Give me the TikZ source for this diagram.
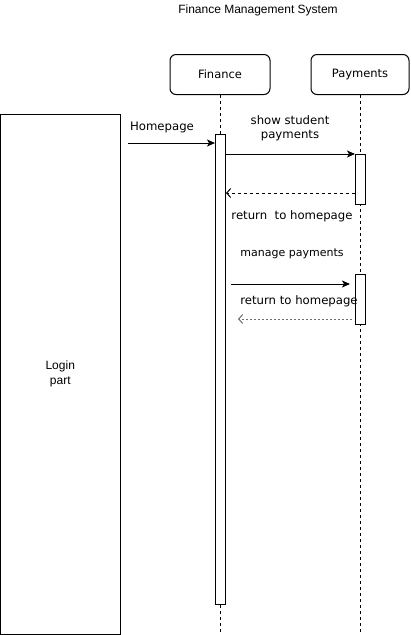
\documentclass[tikz,border=0pt]{standalone}
\usepackage{fontspec}
\setmainfont{Liberation Sans}
\newfontfamily\dejavu{DejaVu Sans}
\usetikzlibrary{arrows.meta,positioning}
\definecolor{replygray}{RGB}{110,110,110}
\tikzset{>=Stealth}

\begin{document}
\begin{tikzpicture}[x=1pt,y=-1pt,line width=1pt,
  lifehead/.style={draw, rounded corners=6pt, minimum width=100pt, minimum height=40pt, font=\dejavu\fontsize{11.5}{13}\selectfont},
  actbar/.style={draw, fill=white, minimum width=10pt, inner sep=0pt},
  lbl/.style={font=\dejavu\fontsize{11.7}{14}\selectfont, align=center, inner sep=0pt},
  msg/.style={-{Stealth[length=8pt,width=7pt,inset=2pt]}},
  reply/.style={dash pattern=on 3pt off 3pt, -{Straight Barb[length=4pt,width=9pt]}},
  lifeline/.style={dash pattern=on 3pt off 3pt}]
  \useasboundingbox (0,0) rectangle (411,635);
  \node[font=\fontsize{12}{14}\selectfont] (title) at (258,10) {Finance Management System};
  % lifelines
  \node[lifehead] (finance) at (220,74.5) {Finance};
  \node[lifehead, minimum width=98pt] (payments) at (360,74.5) {Payments};
  \coordinate (finEnd) at (220,632);
  \coordinate (payEnd) at (360,632);
  \draw[lifeline] (finance) -- (finEnd);
  \draw[lifeline] (payments) -- (payEnd);
  \node[actbar, minimum height=470pt] (finAct) at (220.5,369) {};
  \node[actbar, minimum height=50pt] (payAct1) at (360.5,179) {};
  \node[actbar, minimum height=50pt] (payAct2) at (360.5,299) {};
  \node[draw, minimum width=119.5pt, minimum height=520pt, font=\fontsize{12}{15}\selectfont, align=center] (login) at (60.25,374) {Login\\part};
  % messages
  \coordinate (hpStart) at (128,143);
  \draw[msg] (hpStart) -- (hpStart -| finAct.west);
  \node[lbl] (hpLbl) at (162,127) {Homepage};
  \coordinate (showY) at (0,154);
  \draw[msg] (finAct.east |- showY) -- (payAct1.west |- showY);
  \node[lbl] (showLbl) at (290,128) {show student\\payments};
  \coordinate (ret1Y) at (0,193);
  \draw[reply] (payAct1.west |- ret1Y) -- (finAct.east |- ret1Y);
  \node[lbl] (ret1Lbl) at (292,216) {return\ \ to homepage};
  \node[lbl, font=\dejavu\fontsize{11}{13}\selectfont] (mpLbl) at (292,254) {manage payments};
  \coordinate (mpStart) at (231,284);
  \coordinate (mpEnd) at (350,284);
  \draw[msg] (mpStart) -- (mpEnd);
  \node[lbl] (ret2Lbl) at (299,301) {return to homepage};
  \coordinate (ret2Start) at (352,319);
  \coordinate (ret2End) at (238,319);
  \draw[reply, replygray, dash pattern=on 2pt off 2pt] (ret2Start) -- (ret2End);
\end{tikzpicture}
\end{document}
